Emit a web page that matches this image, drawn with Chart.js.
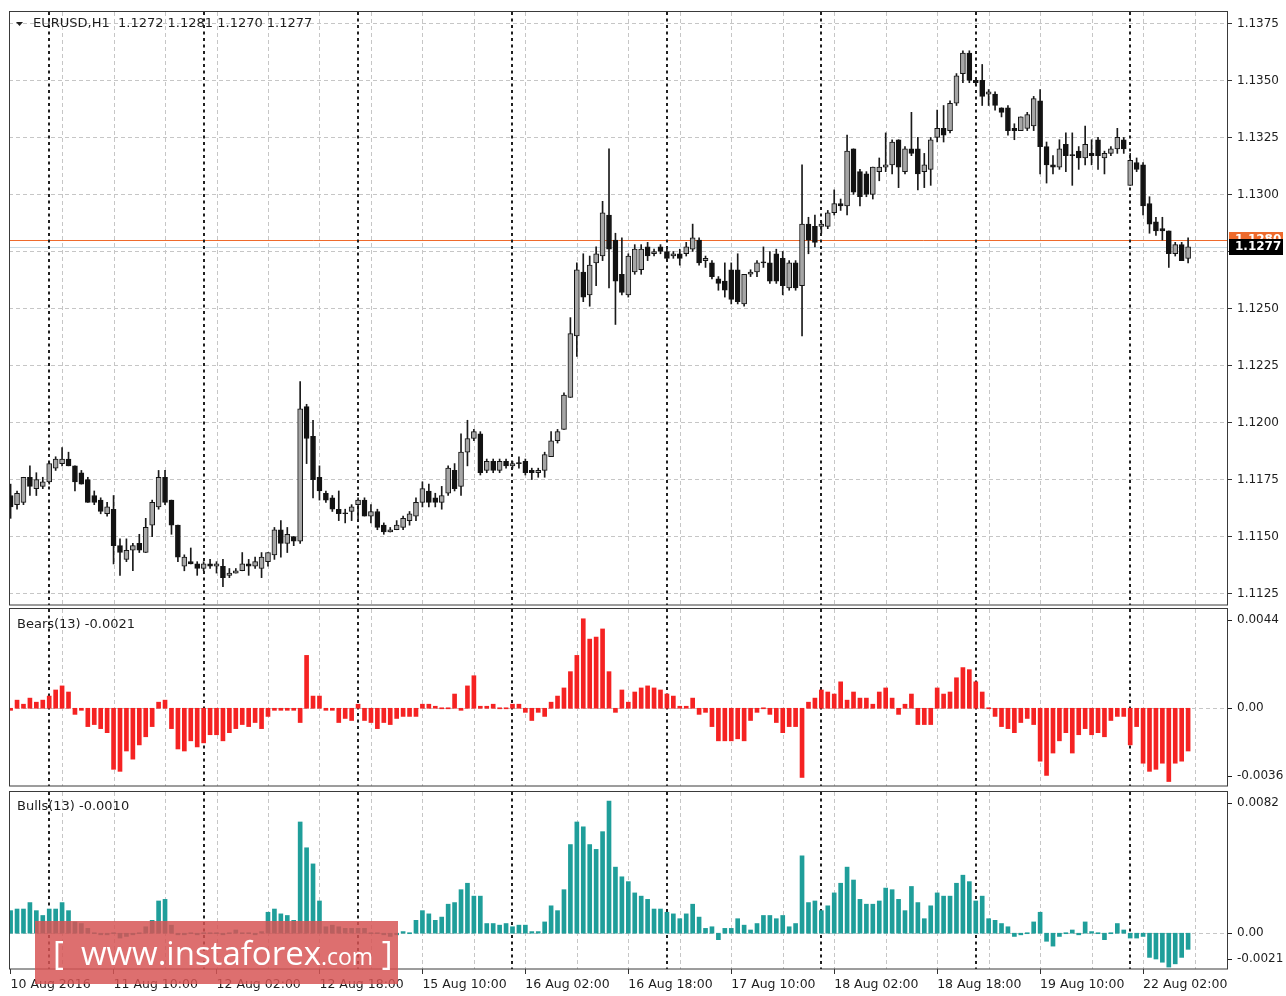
<!DOCTYPE html>
<html lang="en">
<head>
<meta charset="UTF-8">
<title>EURUSD,H1 - Bears / Bulls Power</title>
<script src="https://cdn.jsdelivr.net/npm/chart.js@4.4.1/dist/chart.umd.min.js"></script>
<style>
  html, body { margin: 0; padding: 0; background: #fff; }
  #wrap { position: relative; width: 1286px; height: 996px; overflow: hidden; background: #fff; }
  .pane { position: absolute; left: 0; }
  #wm {
    position: absolute; left: 35px; top: 921px; width: 363px; height: 63px;
    background: rgba(214, 84, 84, 0.84); color: #fff;
    font-family: 'Open Sans', sans-serif; font-size: 33px; line-height: 63px;
    padding-left: 18px; box-sizing: border-box; white-space: nowrap;
  }
  #wm small { font-size: 23px; }
</style>
</head>
<body>
<div id="wrap">
  <canvas id="priceChart" class="pane" width="1286" height="608" style="top:0;width:1286px;height:608px"></canvas>
  <canvas id="bearsChart" class="pane" width="1286" height="182" style="top:606px;width:1286px;height:182px"></canvas>
  <canvas id="bullsChart" class="pane" width="1286" height="208" style="top:788px;width:1286px;height:208px"></canvas>
  <div id="wm">[&nbsp;&nbsp;www.instaforex<small>.com</small>&nbsp;]</div>
</div>
<script>
// EURUSD H1 candles, 10 Aug 18:00 .. 22 Aug 09:00 (184 bars)
const openP = [
  1.1168, 1.1164, 1.1165, 1.1176, 1.1171, 1.1172, 1.1174, 1.1180,
  1.1182, 1.1184, 1.1181, 1.1178, 1.1175, 1.1168, 1.1166, 1.1160,
  1.1162, 1.1146, 1.1140, 1.1144, 1.1147, 1.1143, 1.1155, 1.1163,
  1.1176, 1.1166, 1.1155, 1.1137, 1.1139, 1.1138, 1.1136, 1.1138,
  1.1137, 1.1137, 1.1133, 1.1134, 1.1135, 1.1138, 1.1137, 1.1136,
  1.1139, 1.1142, 1.1153, 1.1147, 1.1150, 1.1148, 1.1207, 1.1194,
  1.1176, 1.1169, 1.1167, 1.1162, 1.1160, 1.1161, 1.1164, 1.1166,
  1.1159, 1.1161, 1.1155, 1.1152, 1.1153, 1.1154, 1.1157, 1.1159,
  1.1165, 1.1170, 1.1167, 1.1165, 1.1169, 1.1179, 1.1172, 1.1187,
  1.1193, 1.1195, 1.1179, 1.1183, 1.1179, 1.1183, 1.1181, 1.1182,
  1.1183, 1.1179, 1.1178, 1.1179, 1.1185, 1.1192, 1.1197, 1.1211,
  1.1238, 1.1266, 1.1256, 1.1270, 1.1273, 1.1291, 1.1280, 1.1265,
  1.1256, 1.1266, 1.1267, 1.1277, 1.1274, 1.1277, 1.1275, 1.1273,
  1.1274, 1.1274, 1.1276, 1.1280, 1.1271, 1.1270, 1.1263, 1.1262,
  1.1267, 1.1267, 1.1252, 1.1265, 1.1266, 1.1270, 1.1270, 1.1274,
  1.1272, 1.1259, 1.1270, 1.1260, 1.1287, 1.1286, 1.1286, 1.1286,
  1.1292, 1.1296, 1.1295, 1.1320, 1.1310, 1.1309, 1.1300, 1.1310,
  1.1312, 1.1313, 1.1324, 1.1310, 1.1320, 1.1320, 1.1310, 1.1311,
  1.1325, 1.1329, 1.1328, 1.1340, 1.1353, 1.1362, 1.1350, 1.1350,
  1.1344, 1.1344, 1.1338, 1.1338, 1.1329, 1.1328, 1.1329, 1.1330,
  1.1341, 1.1321, 1.1313, 1.1312, 1.1322, 1.1317, 1.1319, 1.1316,
  1.1318, 1.1324, 1.1316, 1.1318, 1.1320, 1.1324, 1.1304, 1.1314,
  1.1313, 1.1296, 1.1288, 1.1285, 1.1284, 1.1274, 1.1278, 1.1272
];
const highP = [
  1.1173, 1.1170, 1.1176, 1.1181, 1.1178, 1.1176, 1.1183, 1.1185,
  1.1189, 1.1187, 1.1181, 1.1179, 1.1176, 1.1170, 1.1167, 1.1165,
  1.1168, 1.1149, 1.1149, 1.1147, 1.1151, 1.1158, 1.1166, 1.1179,
  1.1179, 1.1166, 1.1155, 1.1142, 1.1145, 1.1139, 1.1139, 1.1140,
  1.1139, 1.1140, 1.1136, 1.1136, 1.1143, 1.1140, 1.1141, 1.1143,
  1.1143, 1.1154, 1.1157, 1.1154, 1.1150, 1.1218, 1.1208, 1.1201,
  1.1181, 1.1170, 1.1168, 1.1170, 1.1162, 1.1164, 1.1167, 1.1167,
  1.1164, 1.1162, 1.1156, 1.1154, 1.1157, 1.1159, 1.1161, 1.1167,
  1.1174, 1.1173, 1.1169, 1.1172, 1.1181, 1.1182, 1.1195, 1.1201,
  1.1197, 1.1196, 1.1184, 1.1184, 1.1184, 1.1184, 1.1183, 1.1185,
  1.1184, 1.1180, 1.1180, 1.1187, 1.1196, 1.1197, 1.1213, 1.1246,
  1.1270, 1.1274, 1.1273, 1.1277, 1.1297, 1.1320, 1.1283, 1.1281,
  1.1274, 1.1278, 1.1278, 1.1279, 1.1276, 1.1278, 1.1276, 1.1275,
  1.1276, 1.1279, 1.1287, 1.1281, 1.1273, 1.1271, 1.1264, 1.1270,
  1.1270, 1.1274, 1.1265, 1.1267, 1.1271, 1.1277, 1.1275, 1.1276,
  1.1275, 1.1271, 1.1271, 1.1313, 1.1290, 1.1291, 1.1288, 1.1293,
  1.1302, 1.1298, 1.1326, 1.1320, 1.1311, 1.1310, 1.1312, 1.1316,
  1.1327, 1.1324, 1.1324, 1.1321, 1.1336, 1.1325, 1.1318, 1.1325,
  1.1337, 1.1339, 1.1341, 1.1353, 1.1363, 1.1363, 1.1350, 1.1357,
  1.1346, 1.1345, 1.1338, 1.1339, 1.1331, 1.1334, 1.1336, 1.1343,
  1.1346, 1.1323, 1.1317, 1.1324, 1.1327, 1.1327, 1.1321, 1.1330,
  1.1324, 1.1325, 1.1319, 1.1321, 1.1329, 1.1325, 1.1318, 1.1316,
  1.1314, 1.1299, 1.1290, 1.1290, 1.1284, 1.1279, 1.1279, 1.1281
];
const lowP = [
  1.1158, 1.1162, 1.1164, 1.1168, 1.1168, 1.1171, 1.1173, 1.1179,
  1.1181, 1.1181, 1.1170, 1.1173, 1.1165, 1.1164, 1.1160, 1.1159,
  1.1138, 1.1133, 1.1139, 1.1135, 1.1143, 1.1143, 1.1150, 1.1162,
  1.1164, 1.1151, 1.1139, 1.1135, 1.1138, 1.1133, 1.1135, 1.1136,
  1.1134, 1.1128, 1.1132, 1.1134, 1.1135, 1.1133, 1.1136, 1.1132,
  1.1137, 1.1140, 1.1141, 1.1143, 1.1146, 1.1147, 1.1182, 1.1167,
  1.1166, 1.1165, 1.1161, 1.1157, 1.1156, 1.1157, 1.1157, 1.1159,
  1.1156, 1.1153, 1.1151, 1.1152, 1.1153, 1.1153, 1.1155, 1.1157,
  1.1163, 1.1163, 1.1163, 1.1162, 1.1168, 1.1170, 1.1168, 1.1181,
  1.1192, 1.1177, 1.1178, 1.1178, 1.1178, 1.1180, 1.1180, 1.1180,
  1.1177, 1.1175, 1.1176, 1.1176, 1.1185, 1.1191, 1.1197, 1.1211,
  1.1229, 1.1253, 1.1251, 1.1260, 1.1271, 1.1259, 1.1243, 1.1256,
  1.1255, 1.1265, 1.1265, 1.1271, 1.1273, 1.1274, 1.1271, 1.1272,
  1.1269, 1.1273, 1.1275, 1.1269, 1.1268, 1.1263, 1.1258, 1.1255,
  1.1252, 1.1252, 1.1251, 1.1264, 1.1264, 1.1268, 1.1261, 1.1261,
  1.1256, 1.1258, 1.1258, 1.1238, 1.1274, 1.1277, 1.1283, 1.1285,
  1.1291, 1.1293, 1.1291, 1.1300, 1.1295, 1.1299, 1.1298, 1.1306,
  1.1310, 1.1309, 1.1303, 1.1309, 1.1317, 1.1302, 1.1303, 1.1304,
  1.1323, 1.1323, 1.1327, 1.1339, 1.1349, 1.1349, 1.1348, 1.1339,
  1.1339, 1.1337, 1.1334, 1.1326, 1.1324, 1.1328, 1.1328, 1.1328,
  1.1309, 1.1305, 1.1309, 1.1311, 1.1310, 1.1304, 1.1311, 1.1313,
  1.1313, 1.1311, 1.1309, 1.1317, 1.1318, 1.1318, 1.1304, 1.1310,
  1.1291, 1.1283, 1.1282, 1.1280, 1.1268, 1.1273, 1.1271, 1.1270
];
const closeP = [
  1.1163, 1.1169, 1.1176, 1.1172, 1.1175, 1.1174, 1.1182, 1.1184,
  1.1184, 1.1181, 1.1174, 1.1173, 1.1165, 1.1165, 1.1161, 1.1163,
  1.1146, 1.1143, 1.1144, 1.1146, 1.1144, 1.1154, 1.1165, 1.1176,
  1.1165, 1.1155, 1.1141, 1.1141, 1.1138, 1.1136, 1.1138, 1.1137,
  1.1138, 1.1132, 1.1134, 1.1135, 1.1138, 1.1137, 1.1139, 1.1141,
  1.1143, 1.1153, 1.1147, 1.1151, 1.1148, 1.1206, 1.1193, 1.1175,
  1.1170, 1.1166, 1.1162, 1.1160, 1.1160, 1.1163, 1.1166, 1.1159,
  1.1161, 1.1154, 1.1152, 1.1153, 1.1155, 1.1158, 1.1160, 1.1165,
  1.1171, 1.1165, 1.1165, 1.1168, 1.1180, 1.1171, 1.1187, 1.1193,
  1.1196, 1.1178, 1.1183, 1.1179, 1.1183, 1.1181, 1.1182, 1.1182,
  1.1178, 1.1178, 1.1179, 1.1186, 1.1192, 1.1196, 1.1212, 1.1239,
  1.1267, 1.1255, 1.1269, 1.1274, 1.1292, 1.1276, 1.1262, 1.1257,
  1.1273, 1.1276, 1.1276, 1.1273, 1.1275, 1.1275, 1.1272, 1.1274,
  1.1272, 1.1277, 1.1281, 1.1270, 1.1272, 1.1264, 1.1261, 1.1258,
  1.1254, 1.1253, 1.1265, 1.1266, 1.1270, 1.1270, 1.1262, 1.1262,
  1.1260, 1.1270, 1.1259, 1.1287, 1.1280, 1.1279, 1.1287, 1.1292,
  1.1296, 1.1295, 1.1319, 1.1301, 1.1299, 1.1300, 1.1312, 1.1312,
  1.1313, 1.1323, 1.1312, 1.1320, 1.1318, 1.1309, 1.1313, 1.1324,
  1.1329, 1.1326, 1.1340, 1.1352, 1.1362, 1.1350, 1.1349, 1.1343,
  1.1345, 1.1339, 1.1336, 1.1328, 1.1328, 1.1334, 1.1335, 1.1342,
  1.1321, 1.1313, 1.1312, 1.1320, 1.1317, 1.1317, 1.1316, 1.1322,
  1.1317, 1.1317, 1.1318, 1.1320, 1.1325, 1.1320, 1.1315, 1.1311,
  1.1295, 1.1287, 1.1284, 1.1284, 1.1274, 1.1278, 1.1271, 1.1277
];

// Bears Power(13)
const bearsP = [
  -0.0001, 0.0004, 0.0002, 0.0005, 0.0003, 0.0004, 0.0006, 0.0009,
  0.0011, 0.0008, -0.0003, -0.0001, -0.0009, -0.0008, -0.0010, -0.0012,
  -0.0030, -0.0031, -0.0021, -0.0025, -0.0018, -0.0014, -0.0009, 0.0003,
  0.0004, -0.0010, -0.0020, -0.0021, -0.0016, -0.0019, -0.0017, -0.0013,
  -0.0013, -0.0016, -0.0012, -0.0010, -0.0008, -0.0009, -0.0007, -0.0010,
  -0.0004, -0.0001, -0.0001, -0.0001, -0.0001, -0.0007, 0.0026, 0.0006,
  0.0006, -0.0001, -0.0001, -0.0007, -0.0005, -0.0006, 0.0002, -0.0006,
  -0.0007, -0.0010, -0.0007, -0.0008, -0.0005, -0.0004, -0.0004, -0.0004,
  0.0002, 0.0002, 0.0001, 0.0000, 0.0000, 0.0007, -0.0001, 0.0011,
  0.0016, 0.0001, 0.0001, 0.0002, 0.0000, 0.0000, 0.0002, 0.0002,
  -0.0002, -0.0006, -0.0002, -0.0004, 0.0003, 0.0006, 0.0010, 0.0018,
  0.0026, 0.0044, 0.0034, 0.0035, 0.0039, 0.0018, -0.0002, 0.0009,
  0.0003, 0.0008, 0.0010, 0.0011, 0.0010, 0.0009, 0.0007, 0.0006,
  0.0001, 0.0001, 0.0005, -0.0003, -0.0002, -0.0009, -0.0016, -0.0016,
  -0.0016, -0.0015, -0.0016, -0.0006, -0.0002, 0.0000, -0.0003, -0.0007,
  -0.0012, -0.0009, -0.0009, -0.0034, 0.0003, 0.0005, 0.0009, 0.0008,
  0.0007, 0.0013, 0.0004, 0.0008, 0.0005, 0.0005, 0.0002, 0.0008,
  0.0010, 0.0005, -0.0003, 0.0002, 0.0007, -0.0008, -0.0008, -0.0008,
  0.0010, 0.0007, 0.0008, 0.0015, 0.0020, 0.0019, 0.0013, 0.0008,
  0.0000, -0.0004, -0.0009, -0.0010, -0.0012, -0.0007, -0.0005, -0.0008,
  -0.0026, -0.0033, -0.0022, -0.0016, -0.0012, -0.0022, -0.0013, -0.0010,
  -0.0013, -0.0012, -0.0014, -0.0006, -0.0004, -0.0004, -0.0018, -0.0009,
  -0.0027, -0.0031, -0.0030, -0.0027, -0.0036, -0.0027, -0.0026, -0.0021
];

// Bulls Power(13)
const bullsP = [
  0.0014, 0.0015, 0.0015, 0.0019, 0.0014, 0.0011, 0.0015, 0.0015,
  0.0019, 0.0014, 0.0007, 0.0006, 0.0003, 0.0000, -0.0001, -0.0001,
  0.0000, -0.0003, -0.0002, -0.0001, 0.0000, 0.0004, 0.0008, 0.0020,
  0.0021, 0.0005, -0.0001, -0.0001, 0.0000, -0.0001, 0.0000, 0.0000,
  0.0000, -0.0001, 0.0000, 0.0002, 0.0000, 0.0000, -0.0001, 0.0001,
  0.0013, 0.0015, 0.0012, 0.0011, 0.0008, 0.0069, 0.0053, 0.0043,
  0.0020, 0.0004, 0.0005, 0.0004, 0.0003, 0.0003, 0.0003, 0.0003,
  0.0000, 0.0000, -0.0001, -0.0002, -0.0001, 0.0001, 0.0000, 0.0008,
  0.0014, 0.0012, 0.0008, 0.0010, 0.0018, 0.0019, 0.0027, 0.0031,
  0.0023, 0.0023, 0.0006, 0.0006, 0.0005, 0.0006, 0.0004, 0.0005,
  0.0005, 0.0001, 0.0001, 0.0007, 0.0017, 0.0014, 0.0027, 0.0055,
  0.0069, 0.0066, 0.0055, 0.0052, 0.0063, 0.0082, 0.0041, 0.0035,
  0.0032, 0.0025, 0.0023, 0.0021, 0.0015, 0.0015, 0.0013, 0.0012,
  0.0009, 0.0012, 0.0018, 0.0010, 0.0003, 0.0004, -0.0004, 0.0003,
  0.0003, 0.0009, 0.0005, 0.0002, 0.0006, 0.0011, 0.0011, 0.0009,
  0.0011, 0.0004, 0.0006, 0.0048, 0.0019, 0.0020, 0.0014, 0.0017,
  0.0025, 0.0031, 0.0041, 0.0033, 0.0021, 0.0018, 0.0018, 0.0020,
  0.0028, 0.0027, 0.0021, 0.0014, 0.0029, 0.0019, 0.0009, 0.0017,
  0.0025, 0.0023, 0.0023, 0.0031, 0.0036, 0.0032, 0.0020, 0.0023,
  0.0009, 0.0008, 0.0006, 0.0004, -0.0002, -0.0001, 0.0000, 0.0007,
  0.0013, -0.0005, -0.0008, -0.0002, 0.0000, 0.0002, -0.0001, 0.0007,
  0.0001, 0.0000, -0.0004, 0.0000, 0.0006, 0.0002, -0.0003, -0.0003,
  -0.0002, -0.0015, -0.0016, -0.0018, -0.0021, -0.0019, -0.0015, -0.0010
];

// time axis: label every 16 bars, day separators at midnight bars
const timeLabels = ['10 Aug 2016', '11 Aug 10:00', '12 Aug 02:00', '12 Aug 18:00', '15 Aug 10:00', '16 Aug 02:00',
                    '16 Aug 18:00', '17 Aug 10:00', '18 Aug 02:00', '18 Aug 18:00', '19 Aug 10:00', '22 Aug 02:00'];
const timeLabelIdx = [0, 16, 32, 48, 64, 80, 96, 112, 128, 144, 160, 176];
const daySeparators = [6, 30, 54, 78, 102, 126, 150, 174];

// value axes
const priceTicks = [1.1125, 1.1150, 1.1175, 1.1200, 1.1225, 1.1250, 1.1275, 1.1300, 1.1325, 1.1350, 1.1375];
const bearsTicks = [0.0044, 0.00, -0.0036];
const bullsTicks = [0.0082, 0.00, -0.0021];
const lineLevel = 1.1280;   // orange horizontal line
const bidPrice = 1.1277;

const X_MIN = -0.25, X_MAX = 189.2;
const GRID = '#c6c6c6';
const INK = '#1e1e1e';
Chart.defaults.font.family = "'DejaVu Sans', sans-serif";
Chart.defaults.color = INK;

const fmt = (v, d) => v.toFixed(d);

// grid, separators, frames, captions and side labels in MT4 style
const paneDecor = {
  id: 'paneDecor',
  beforeDatasetsDraw(chart, args, o) {
    const {ctx, chartArea: a} = chart;
    const xs = chart.scales.x, ys = chart.scales.y;
    ctx.save();
    ctx.beginPath(); ctx.rect(a.left, a.top, a.width, a.height); ctx.clip();
    ctx.lineWidth = 1;
    ctx.strokeStyle = GRID; ctx.setLineDash([4, 3]);
    for (let i = 8; i < X_MAX; i += 8) {
      const px = Math.round(xs.getPixelForValue(i)) + 0.5;
      ctx.beginPath(); ctx.moveTo(px, a.top); ctx.lineTo(px, a.bottom); ctx.stroke();
    }
    (o.levels || []).forEach(l => {
      const py = Math.round(ys.getPixelForValue(l.value)) + 0.5;
      ctx.strokeStyle = l.color; ctx.setLineDash(l.dash || []);
      ctx.beginPath(); ctx.moveTo(a.left, py); ctx.lineTo(a.right, py); ctx.stroke();
    });
    ctx.strokeStyle = '#202020'; ctx.lineWidth = 2; ctx.setLineDash([3, 3.5]);
    daySeparators.forEach(i => {
      const px = Math.round(xs.getPixelForValue(i));
      ctx.beginPath(); ctx.moveTo(px, a.top); ctx.lineTo(px, a.bottom); ctx.stroke();
    });
    ctx.restore();
  },
  afterDraw(chart, args, o) {
    const {ctx, chartArea: a} = chart;
    const ys = chart.scales.y;
    ctx.save();
    ctx.strokeStyle = '#3a3a3a'; ctx.lineWidth = 1; ctx.setLineDash([]);
    ctx.strokeRect(a.left + 0.5, a.top - 0.5, a.width - 1, a.height + 0.5);

    ctx.fillStyle = INK; ctx.textBaseline = 'middle'; ctx.textAlign = 'left';
    ctx.font = "13px 'DejaVu Sans'";
    const cy = a.top + o.captionDy;
    if (o.triangle) {
      ctx.beginPath(); ctx.moveTo(16, cy - 2); ctx.lineTo(23, cy - 2); ctx.lineTo(19.5, cy + 2); ctx.closePath(); ctx.fill();
    }
    ctx.fillText(o.caption, o.captionX, cy);

    // side labels of the indicator panes (kept inside the pane like MT4)
    ctx.font = "12px 'DejaVu Sans'";
    (o.sideTicks || []).forEach(v => {
      const py = Math.min(Math.max(ys.getPixelForValue(v), a.top + 11), a.bottom - 10);
      ctx.fillStyle = INK;
      ctx.fillText(v === 0 ? '0.00' : fmt(v, 4), a.right + 9, py);
      ctx.fillRect(a.right, Math.round(py), 4, 1);
    });

    // price tags on the right scale
    (o.tags || []).forEach(t => {
      const py = ys.getPixelForValue(t.value);
      ctx.fillStyle = t.bg;
      ctx.fillRect(a.right + 1, Math.round(py) - 8, 54, 16);
      ctx.fillStyle = '#fff'; ctx.font = "bold 12px 'DejaVu Sans'";
      ctx.fillText(fmt(t.value, 4), a.right + 7, py);
    });
    ctx.restore();
  }
};

const idx = openP.map((_, i) => i);
const baseOptions = (padding) => ({
  responsive: false,
  animation: false,
  devicePixelRatio: 1,
  events: [],
  layout: { padding },
  plugins: { legend: { display: false }, tooltip: { enabled: false } }
});
const xHidden = { type: 'linear', min: X_MIN, max: X_MAX, offset: false, display: false };

// ---- price pane ----
const wicks = idx.map(i => ({ x: i, y: [lowP[i], highP[i]] }));
const bodies = idx.map(i => ({ x: i, y: [Math.min(openP[i], closeP[i]), Math.max(openP[i], closeP[i])] }));
const bodyFill = idx.map(i => closeP[i] > openP[i] ? '#a6a6a6' : '#121212');

const last = openP.length - 1;
const priceOpts = baseOptions({ left: 9, top: 12, bottom: 3, right: 0 });
priceOpts.plugins.paneDecor = {
  caption: 'EURUSD,H1  ' + [openP[last], highP[last], lowP[last], closeP[last]].map(v => fmt(v, 4)).join(' '),
  captionX: 33, captionDy: 12, triangle: true,
  levels: [
    { value: bidPrice, color: '#c9d9e2' },
    { value: lineLevel, color: '#ee6a2c' }
  ],
  tags: [
    { value: lineLevel, bg: '#ee6a2c' },
    { value: bidPrice, bg: '#000' }
  ]
};
priceOpts.scales = {
  x: xHidden,
  y: {
    position: 'right', min: 1.1120, max: 1.1380,
    afterBuildTicks: s => { s.ticks = priceTicks.map(v => ({ value: v })); },
    afterFit: s => { s.width = 58; s.paddingTop = 0; s.paddingBottom = 0; },
    ticks: { callback: v => fmt(v, 4), font: { size: 12 }, color: INK, padding: 5 },
    grid: { color: GRID, tickColor: '#333', tickLength: 4 },
    border: { display: false, dash: [4, 3] }
  }
};
new Chart(document.getElementById('priceChart'), {
  type: 'bar',
  data: {
    datasets: [
      { data: wicks, backgroundColor: '#1a1a1a', barThickness: 1, grouped: false, order: 2 },
      { data: bodies, backgroundColor: bodyFill, borderColor: '#141414', borderWidth: 1, borderSkipped: false,
        barThickness: 5, minBarLength: 1, grouped: false, order: 1 }
    ]
  },
  options: priceOpts,
  plugins: [paneDecor]
});

// ---- Bears Power pane ----
const bearsOpts = baseOptions({ left: 9, top: 3, bottom: 2, right: 58 });
bearsOpts.plugins.paneDecor = {
  caption: 'Bears(13) ' + fmt(bearsP[last], 4), captionX: 17, captionDy: 16,
  levels: [{ value: 0, color: GRID, dash: [4, 3] }],
  sideTicks: bearsTicks
};
bearsOpts.scales = { x: xHidden, y: { display: false, min: -0.00382, max: 0.00488 } };
new Chart(document.getElementById('bearsChart'), {
  type: 'bar',
  data: { datasets: [{ data: idx.map(i => ({ x: i, y: bearsP[i] })), backgroundColor: '#f52222', barThickness: 4, minBarLength: 1 }] },
  options: bearsOpts,
  plugins: [paneDecor]
});

// ---- Bulls Power pane (carries the time axis) ----
const bullsOpts = baseOptions({ left: 9, top: 4, bottom: 0, right: 58 });
bullsOpts.plugins.paneDecor = {
  caption: 'Bulls(13) ' + fmt(bullsP[last], 4), captionX: 17, captionDy: 15,
  levels: [{ value: 0, color: GRID, dash: [4, 3] }],
  sideTicks: bullsTicks
};
bullsOpts.scales = {
  x: {
    type: 'linear', min: X_MIN, max: X_MAX, offset: false, position: 'bottom',
    afterBuildTicks: s => { s.ticks = timeLabelIdx.map(v => ({ value: v })); },
    afterFit: s => { s.height = 27; s.paddingLeft = 0; s.paddingRight = 0; },
    ticks: { autoSkip: false, maxRotation: 0, minRotation: 0, align: 'start', padding: 3,
             font: { size: 12.5 }, color: INK, callback: (v, i) => timeLabels[i] },
    grid: { drawOnChartArea: false, drawTicks: true, tickLength: 5, tickColor: '#333', offset: false },
    border: { display: false }
  },
  y: { display: false, min: -0.00222, max: 0.00876 }
};
new Chart(document.getElementById('bullsChart'), {
  type: 'bar',
  data: { datasets: [{ data: idx.map(i => ({ x: i, y: bullsP[i] })), backgroundColor: '#1f9e9a', barThickness: 4, minBarLength: 1 }] },
  options: bullsOpts,
  plugins: [paneDecor]
});
</script>
</body>
</html>
